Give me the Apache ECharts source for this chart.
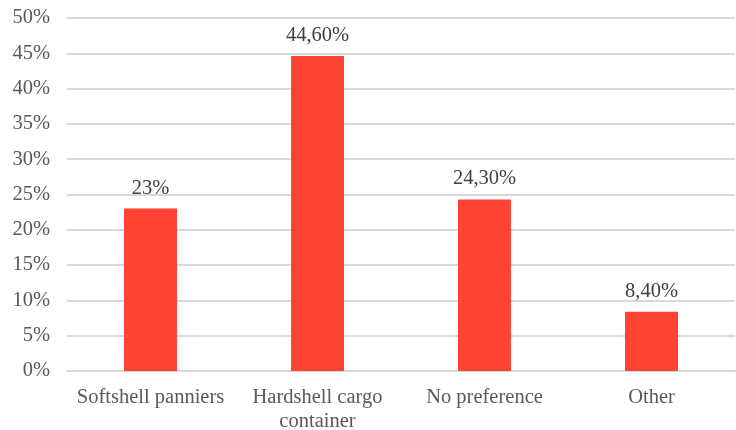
<!DOCTYPE html>
<html>
<head>
<meta charset="utf-8">
<script src="https://cdn.jsdelivr.net/npm/echarts@6/dist/echarts.min.js"></script>
<style>
  html, body { margin: 0; padding: 0; background: #fff; }
  #chart { width: 736px; height: 430px; }
</style>
</head>
<body>
<div id="chart"></div>
<script>
// Preferred luggage type (share of respondents)
var categories = ['Softshell panniers', 'Hardshell cargo\ncontainer', 'No preference', 'Other'];
var shares = [23, 44.6, 24.3, 8.4];
var valueLabels = ['23%', '44,60%', '24,30%', '8,40%'];
var yTicks = [0, 5, 10, 15, 20, 25, 30, 35, 40, 45, 50];

var fontFamily = 'Times New Roman, Liberation Serif, DejaVu Serif, serif';
var chart = echarts.init(document.getElementById('chart'));

chart.setOption({
  animation: false,
  textStyle: { fontFamily: fontFamily },
  grid: {
    left: 67, right: 1, top: 18, bottom: 59,
    containLabel: false,
    outerBoundsMode: 'none'
  },
  xAxis: {
    type: 'category',
    data: categories,
    axisLine: { show: true, lineStyle: { color: '#d9d9d9', width: 2 } },
    axisTick: { show: false },
    axisLabel: {
      color: '#595959',
      fontFamily: fontFamily,
      fontSize: 20.5,
      lineHeight: 24,
      margin: 15,
      interval: 0
    }
  },
  yAxis: {
    type: 'value',
    min: yTicks[0],
    max: yTicks[yTicks.length - 1],
    interval: 5,
    axisLine: { show: false },
    axisTick: { show: false },
    splitLine: { lineStyle: { color: '#d9d9d9', width: 2 } },
    axisLabel: {
      color: '#595959',
      fontFamily: fontFamily,
      fontSize: 20.5,
      margin: 17,
      formatter: function (v) { return v + '%'; }
    }
  },
  series: [{
    type: 'bar',
    data: shares,
    barWidth: 53,
    itemStyle: { color: '#ff4433' },
    label: {
      show: true,
      position: 'top',
      distance: 10,
      color: '#404040',
      fontFamily: fontFamily,
      fontSize: 20.5,
      formatter: function (p) { return valueLabels[p.dataIndex]; }
    }
  }]
});
</script>
</body>
</html>
